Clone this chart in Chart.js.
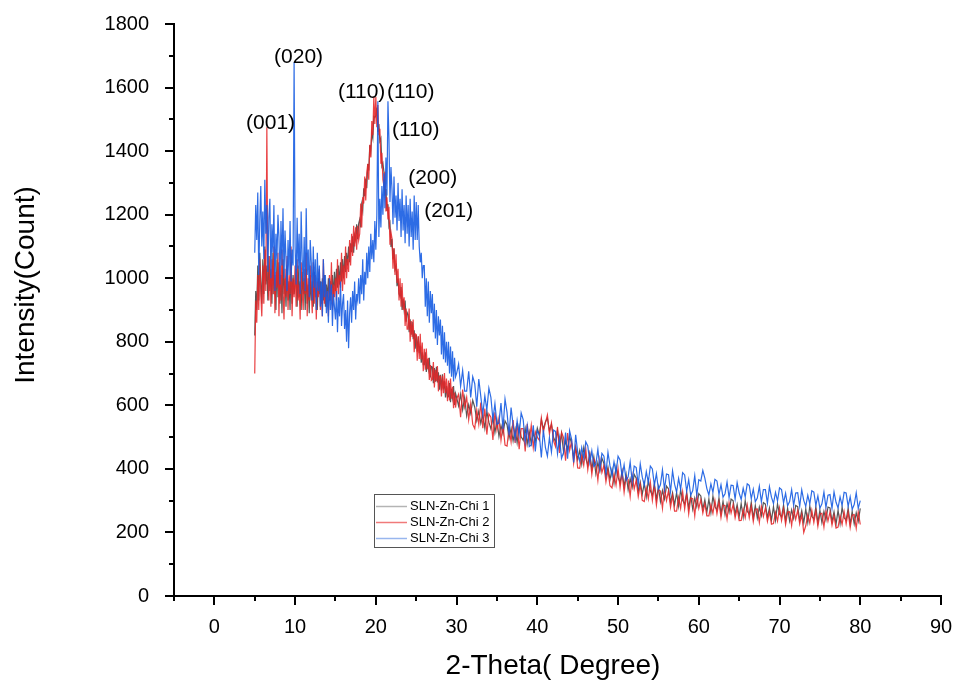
<!DOCTYPE html>
<html>
<head>
<meta charset="utf-8">
<script src="https://cdn.jsdelivr.net/npm/chart.js@4.4.1/dist/chart.umd.min.js"></script>
<style>
html,body{margin:0;padding:0;background:#fff;}
#wrap{width:955px;height:684px;}
</style>
</head>
<body>
<div id="wrap"><canvas id="c" width="955" height="684"></canvas></div>
<script>
// 2-Theta (degree) sample positions
const angles = [
5,5.125,5.25,5.375,5.5,5.625,5.75,5.875,
6,6.125,6.25,6.375,6.5,6.625,6.75,6.875,
7,7.125,7.25,7.375,7.5,7.625,7.75,7.875,
8,8.125,8.25,8.375,8.5,8.625,8.75,8.875,
9,9.125,9.25,9.375,9.5,9.625,9.75,9.875,
10,10.125,10.25,10.375,10.5,10.625,10.75,10.875,
11,11.125,11.25,11.375,11.5,11.625,11.75,11.875,
12,12.125,12.25,12.375,12.5,12.625,12.75,12.875,
13,13.125,13.25,13.375,13.5,13.625,13.75,13.875,
14,14.125,14.25,14.375,14.5,14.625,14.75,14.875,
15,15.125,15.25,15.375,15.5,15.625,15.75,15.875,
16,16.125,16.25,16.375,16.5,16.625,16.75,16.875,
17,17.125,17.25,17.375,17.5,17.625,17.75,17.875,
18,18.125,18.25,18.375,18.5,18.625,18.75,18.875,
19,19.125,19.25,19.375,19.5,19.625,19.75,19.875,
20,20.125,20.25,20.375,20.5,20.625,20.75,20.875,
21,21.125,21.25,21.375,21.5,21.625,21.75,21.875,
22,22.125,22.25,22.375,22.5,22.625,22.75,22.875,
23,23.125,23.25,23.375,23.5,23.625,23.75,23.875,
24,24.125,24.25,24.375,24.5,24.625,24.75,24.875,
25,25.125,25.25,25.375,25.5,25.625,25.75,25.875,
26,26.125,26.25,26.375,26.5,26.625,26.75,26.875,
27,27.125,27.25,27.375,27.5,27.625,27.75,27.875,
28,28.125,28.25,28.375,28.5,28.625,28.75,28.875,
29,29.125,29.25,29.375,29.5,29.625,29.75,29.875,
30,
30.25,30.5,30.75,31, 31.25,31.5,31.75,32, 32.25,32.5,32.75,33, 33.25,33.5,33.75,34, 34.25,34.5,34.75,35,
35.25,35.5,35.75,36, 36.25,36.5,36.75,37, 37.25,37.5,37.75,38, 38.25,38.5,38.75,39, 39.25,39.5,39.75,40,
40.25,40.5,40.75,41, 41.25,41.5,41.75,42, 42.25,42.5,42.75,43, 43.25,43.5,43.75,44, 44.25,44.5,44.75,45,
45.25,45.5,45.75,46, 46.25,46.5,46.75,47, 47.25,47.5,47.75,48, 48.25,48.5,48.75,49, 49.25,49.5,49.75,50,
50.25,50.5,50.75,51, 51.25,51.5,51.75,52, 52.25,52.5,52.75,53, 53.25,53.5,53.75,54, 54.25,54.5,54.75,55,
55.25,55.5,55.75,56, 56.25,56.5,56.75,57, 57.25,57.5,57.75,58, 58.25,58.5,58.75,59, 59.25,59.5,59.75,60,
60.25,60.5,60.75,61, 61.25,61.5,61.75,62, 62.25,62.5,62.75,63, 63.25,63.5,63.75,64, 64.25,64.5,64.75,65,
65.25,65.5,65.75,66, 66.25,66.5,66.75,67, 67.25,67.5,67.75,68, 68.25,68.5,68.75,69, 69.25,69.5,69.75,70,
70.25,70.5,70.75,71, 71.25,71.5,71.75,72, 72.25,72.5,72.75,73, 73.25,73.5,73.75,74, 74.25,74.5,74.75,75,
75.25,75.5,75.75,76, 76.25,76.5,76.75,77, 77.25,77.5,77.75,78, 78.25,78.5,78.75,79, 79.25,79.5,79.75,80
];

// SLN-Zn-Chi 1 (black)
const chi1 = [
820,960,900,1040,930,1080,990,920,
1060,950,1100,980,1040,930,1070,960,
1030,920,1080,950,1010,900,1060,940,
1050,920,1010,890,1060,950,1000,910,
1040,930,990,900,1050,920,1010,950,
980,1030,910,1040,940,990,900,1020,
950,1000,900,1030,920,980,890,1010,
930,990,910,1020,940,970,900,1000,
950,990,920,1000,930,1010,910,980,
940,1000,930,990,950,1010,940,1020,
960,1030,970,1040,980,1050,990,1060,
1000,1070,1020,1080,1040,1100,1050,1110,
1082,1132,1080,1135,1121,1170,1123,1172,
1185,1160,1231,1212,1283,1258,1314,1283,
1359,1339,1418,1398,1458,1440,1509,1506,
1512,1537,1460,1485,1431,1440,1353,1362,
1335,1260,1281,1212,1233,1163,1174,1098,
1124,1059,1093,1028,1038,975,999,951,
942,972,900,935,901,930,863,892,
885,830,871,822,863,808,836,778,
822,769,816,764,788,734,767,728,
728,767,705,745,716,750,688,722,
720,670,717,674,721,672,704,649,
696,647,698,650,676,625,661,625,
628,670,610,652,625,661,601,637,
625,
598,635,586,625, 567,602,575,616, 594,552,582,543, 571,528,580,547, 526,563,514,553,
502,537,510,551, 539,497,527,488, 525,482,534,501, 490,527,478,517, 479,514,487,528,
505,555,525,548, 560,520,540,500, 485,522,473,512, 453,488,461,502, 480,438,468,429,
458,415,467,434, 411,448,399,438, 385,420,393,434, 417,375,405,366, 398,355,407,374,
356,393,344,383, 334,369,342,383, 371,329,359,320, 355,312,364,331, 316,353,304,343,
297,332,305,346, 337,295,325,286, 325,282,334,301, 289,326,277,316, 273,308,281,322,
315,273,303,264, 305,262,314,281, 271,308,259,298, 256,291,264,305, 300,258,288,249,
291,248,300,267, 258,295,246,285, 245,280,253,294, 289,247,277,238, 281,238,290,257,
249,286,237,276, 236,271,244,285, 281,239,269,230, 274,231,283,250, 243,280,231,270,
231,266,239,280, 277,235,265,226, 270,227,279,246, 239,276,227,266, 227,262,235,276
];

// SLN-Zn-Chi 2 (red)
const chi2 = [
700,930,860,1010,900,1060,950,880,
1040,920,1090,960,1475,1000,930,1070,
910,1060,950,1100,890,1020,970,1080,
880,1040,930,1090,960,870,1030,940,
1070,900,1010,950,1100,880,1000,940,
1040,910,1060,930,980,870,1050,960,
900,1030,950,1080,880,1000,930,1040,
960,890,1050,920,1010,870,990,940,
1030,900,970,880,1060,920,990,910,
960,880,1010,930,1050,900,980,940,
1000,930,1060,950,1010,970,1080,960,
1040,980,1100,1000,1060,1020,1120,1040,
1140,1070,1165,1100,1160,1090,1165,1120,
1140,1235,1160,1255,1235,1320,1245,1330,
1360,1310,1420,1380,1495,1450,1572,1485,
1570,1475,1545,1450,1470,1360,1395,1310,
1290,1335,1210,1255,1185,1225,1105,1145,
1125,1030,1095,1010,1075,985,1030,930,
1000,910,985,900,940,850,905,840,
840,905,800,865,815,870,767,825,
823,740,818,746,825,744,798,707,
778,712,779,714,749,680,727,678,
681,736,656,712,676,724,644,692,
692,628,693,638,702,639,684,613,
678,615,684,621,658,591,640,593,
620,
635,563,650,595, 625,555,605,540, 527,585,540,609, 528,590,508,573, 563,491,578,523,
560,490,540,475, 472,530,485,554, 482,544,462,527, 527,455,542,487, 537,467,517,500,
490,560,515,545, 570,510,545,490, 470,532,450,515, 498,426,513,458, 488,418,468,403,
402,445,411,463, 397,444,382,431, 418,364,430,388, 411,359,396,347, 340,383,349,401,
341,388,326,375, 367,313,379,337, 365,313,350,301, 297,340,306,358, 301,348,286,335,
330,276,342,300, 331,279,316,267, 267,310,276,328, 274,321,259,308, 306,252,318,276,
303,261,291,252, 252,287,260,301, 259,296,247,286, 285,242,294,261, 288,246,276,237,
238,273,246,287, 246,283,234,273, 274,231,283,250, 277,235,265,226, 228,263,236,277,
237,274,225,264, 265,222,274,241, 269,227,257,200, 221,256,229,270, 231,268,219,258,
260,217,269,236, 265,223,253,214, 217,252,225,266, 227,264,215,254, 256,213,265,225
];

// SLN-Zn-Chi 3 (blue)
const chi3 = [
1080,1230,1120,1270,1010,1180,1290,1100,
1210,1060,1310,1140,1230,1020,1190,1250,
1000,1170,1080,1230,960,1140,1060,1200,
1130,980,1180,1040,1220,1000,1150,1060,
960,1120,1010,1180,990,1090,1040,1680,
1100,980,1190,1030,1140,950,1210,1060,
990,1130,960,1220,1010,1090,940,1120,
1050,930,1100,970,1060,900,1080,960,
1040,910,990,880,1060,940,1010,890,
960,860,1000,900,980,850,950,910,
870,960,830,940,880,990,850,920,
950,840,900,800,930,780,890,940,
860,960,900,990,870,950,930,1000,
920,1010,950,1060,930,1020,980,1080,
1000,1100,1020,1140,1060,1120,1050,1180,
1090,1200,1557,1130,1250,1160,1290,1200,
1330,1220,1380,1260,1557,1437,1240,1350,
1280,1170,1320,1190,1260,1150,1300,1180,
1250,1130,1280,1150,1230,1110,1260,1140,
1230,1100,1250,1130,1210,1090,1260,1120,
1240,1120,1230,1100,1050,1080,1000,1040,
1040,910,1000,880,990,860,960,890,
950,830,920,810,900,790,880,820,
870,760,850,745,830,735,800,725,
800,700,785,690,770,675,750,690,
700,
730,660,710,645, 645,707,625,690, 668,596,683,628, 572,630,585,654, 625,555,605,540,
545,607,525,620, 578,506,593,538, 494,552,507,576, 555,485,535,470, 475,537,455,520,
508,436,523,468, 440,498,453,522, 518,448,498,433, 452,514,432,520, 492,420,507,452,
424,467,433,485, 472,420,457,408, 415,462,400,449, 440,386,452,410, 379,422,388,440,
428,376,413,364, 375,422,360,409, 404,350,416,374, 348,391,357,409, 400,348,385,336,
350,397,335,384, 382,328,394,352, 327,370,336,388, 381,329,366,317, 332,379,317,366,
362,395,371,338, 318,353,326,367, 362,320,350,311, 322,359,310,349, 348,305,357,324,
304,339,312,353, 348,306,336,297, 308,345,296,335, 335,292,344,311, 291,326,299,340,
335,293,323,284, 297,334,285,324, 325,282,334,301, 282,317,290,331, 327,285,315,276,
290,327,278,317, 319,276,328,295, 277,312,285,326, 324,282,312,273, 288,325,276,300
];

const seriesNames = ['SLN-Zn-Chi 1','SLN-Zn-Chi 2','SLN-Zn-Chi 3'];
const xTickValues = [0,10,20,30,40,50,60,70,80,90];
const yTickValues = [0,200,400,600,800,1000,1200,1400,1600,1800];
const xMinorTicks = [-5,5,15,25,35,45,55,65,75,85];
const yMinorTicks = [100,300,500,700,900,1100,1300,1500,1700];

// peak labels (hkl)
const peakLabels = ['(001)','(020)','(110)','(110)','(110)','(200)','(201)'];
const peakLabelX = [6.96,10.43,18.24,24.31,24.93,27.04,29.02];
const peakLabelY = [1489,1697,1586,1584,1467,1316,1212];

[chi1,chi2,chi3].forEach((s,i)=>{ if(s.length!==angles.length) throw new Error('length mismatch series '+(i+1)+': '+s.length+' vs '+angles.length); });

const FONT = "'Liberation Sans', Arial, sans-serif";
const colors = ['rgba(45,45,45,0.8)','rgba(230,38,40,0.88)','rgba(22,92,226,0.9)'];
const legendColors = ['#b4b4b4','#f07a7a','#98b6ee'];

function pts(vals){ return angles.map((a,i)=>({x:a,y:vals[i]})); }

const decor = {
  id:'decor',
  afterDraw(chart){
    const {ctx, scales:{x,y}, chartArea:a} = chart;
    ctx.save();
    ctx.strokeStyle='#000';
    ctx.lineWidth=2;
    ctx.beginPath();
    xTickValues.forEach(v=>{const p=Math.round(x.getPixelForValue(v)); ctx.moveTo(p,a.bottom); ctx.lineTo(p,a.bottom+9);});
    xMinorTicks.forEach(v=>{const p=Math.round(x.getPixelForValue(v)); ctx.moveTo(p,a.bottom); ctx.lineTo(p,a.bottom+5);});
    yTickValues.forEach(v=>{const p=Math.round(y.getPixelForValue(v)); ctx.moveTo(a.left,p); ctx.lineTo(a.left-9,p);});
    yMinorTicks.forEach(v=>{const p=Math.round(y.getPixelForValue(v)); ctx.moveTo(a.left,p); ctx.lineTo(a.left-5,p);});
    ctx.stroke();

    // axis titles
    ctx.fillStyle='#000';
    ctx.font = '28px '+FONT;
    ctx.textAlign='center';
    ctx.textBaseline='middle';
    ctx.fillText('2-Theta( Degree)', 553, 666);
    ctx.save();
    ctx.translate(26, 285);
    ctx.rotate(-Math.PI/2);
    ctx.fillText('Intensity(Count)', 0, 0);
    ctx.restore();

    // peak labels
    ctx.font = '21px '+FONT;
    peakLabels.forEach((t,i)=>{
      ctx.fillText(t, x.getPixelForValue(peakLabelX[i]), y.getPixelForValue(peakLabelY[i]));
    });

    // legend box
    const lx=374, ly=494, lw=120, lh=53;
    ctx.lineWidth=1;
    ctx.strokeStyle='#555';
    ctx.strokeRect(lx+0.5, ly+0.5, lw, lh);
    ctx.font='13px '+FONT;
    ctx.textAlign='left';
    chart.data.datasets.forEach((ds,i)=>{
      const cy = ly + 12 + i*16;
      ctx.strokeStyle = legendColors[i];
      ctx.lineWidth = 1.5;
      ctx.beginPath(); ctx.moveTo(lx+2, cy+0.5); ctx.lineTo(lx+33, cy+0.5); ctx.stroke();
      ctx.fillStyle='#000';
      ctx.fillText(ds.label, lx+36, cy);
    });
    ctx.restore();
  }
};

new Chart(document.getElementById('c'), {
  type:'line',
  data:{
    datasets:[
      {label:seriesNames[0], data:pts(chi1), borderColor:colors[0], borderWidth:1.2, pointRadius:0, order:3},
      {label:seriesNames[1], data:pts(chi2), borderColor:colors[1], borderWidth:1.2, pointRadius:0, order:2},
      {label:seriesNames[2], data:pts(chi3), borderColor:colors[2], borderWidth:1.2, pointRadius:0, order:1}
    ]
  },
  options:{
    responsive:false,
    animation:false,
    devicePixelRatio:1,
    layout:{padding:{left:0,right:14,top:24,bottom:0}},
    plugins:{legend:{display:false}, tooltip:{enabled:false}},
    elements:{line:{tension:0}},
    scales:{
      x:{
        type:'linear', min:-5, max:90,
        afterBuildTicks(s){ s.ticks = xTickValues.map(v=>({value:v})); },
        afterFit(s){ s.height = 88; s.paddingLeft = 0; s.paddingRight = 0; },
        grid:{display:false, drawTicks:false},
        border:{display:true,color:'#000',width:2},
        ticks:{color:'#000', font:{family:FONT,size:20}, padding:19, maxRotation:0, callback:v=>String(v)}
      },
      y:{
        type:'linear', min:0, max:1800,
        afterBuildTicks(s){ s.ticks = yTickValues.map(v=>({value:v})); },
        afterFit(s){ s.width = 174; s.paddingTop = 0; s.paddingBottom = 0; },
        grid:{display:false, drawTicks:false},
        border:{display:true,color:'#000',width:2},
        ticks:{color:'#000', font:{family:FONT,size:20}, padding:25, callback:v=>String(v)}
      }
    }
  },
  plugins:[decor]
});
</script>
</body>
</html>
